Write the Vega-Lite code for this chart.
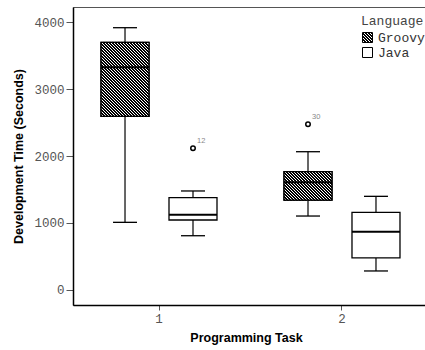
{
  "$schema": "https://vega.github.io/schema/vega-lite/v6.json",
  "autosize": {"type": "none"},
  "width": 355,
  "height": 298,
  "padding": {"left": 73, "top": 7, "right": 0, "bottom": 45},
  "background": "white",
  "config": {
    "view": {"stroke": "#555", "strokeWidth": 1},
    "axis": {"grid": false, "domainColor": "black", "domainWidth": 1.5, "tickColor": "#555", "labelFont": "Liberation Mono", "labelFontSize": 12.5, "labelColor": "#555", "titleFont": "Liberation Sans", "titleFontWeight": "bold", "titleFontSize": 12.5, "titleColor": "black"},
    "axisY": {"tickSize": 7, "labelPadding": 2, "titlePadding": 8},
    "axisX": {"tickSize": 5, "labelPadding": 2, "titlePadding": 7, "labelAngle": 0},
    "legend": {"orient": "none", "legendX": 288, "legendY": 8, "padding": 0, "titleFont": "Liberation Mono", "titleFontSize": 13, "titleFontWeight": "normal", "titleColor": "#444", "labelFont": "Liberation Mono", "labelFontSize": 13, "labelColor": "#333", "symbolType": "square", "symbolSize": 100, "symbolStrokeColor": "black", "symbolStrokeWidth": 1, "rowPadding": 0, "labelOffset": 4, "titlePadding": 3}
  },
  "datasets": {
    "boxes": [
      {"task": "1", "language": "Groovy", "lower": 1010, "q1": 2592, "median": 3324, "q3": 3697, "upper": 3915},
      {"task": "1", "language": "Java", "lower": 810, "q1": 1045, "median": 1122, "q3": 1380, "upper": 1478},
      {"task": "2", "language": "Groovy", "lower": 1104, "q1": 1340, "median": 1610, "q3": 1766, "upper": 2064},
      {"task": "2", "language": "Java", "lower": 284, "q1": 478, "median": 870, "q3": 1160, "upper": 1398}
    ],
    "outliers": [
      {"task": "1", "language": "Java", "value": 2117, "case": "12"},
      {"task": "2", "language": "Groovy", "value": 2473, "case": "30"}
    ]
  },
  "encoding": {
    "x": {"field": "task", "type": "nominal", "title": "Programming Task", "scale": {"paddingInner": 0.06, "paddingOuter": 0}, "axis": {"titleX": 173}},
    "xOffset": {"field": "language", "type": "nominal", "scale": {"paddingInner": 0, "paddingOuter": 0.265}}
  },
  "layer": [
    {
      "data": {"name": "boxes"},
      "mark": {"type": "rule", "color": "black", "strokeWidth": 1.2},
      "encoding": {
        "y": {"field": "lower", "type": "quantitative", "title": "Development Time (Seconds)", "scale": {"domain": [-224, 4224], "nice": false, "zero": false}, "axis": {"values": [0, 1000, 2000, 3000, 4000], "format": "d"}},
        "y2": {"field": "upper"}
      }
    },
    {
      "data": {"name": "boxes"},
      "mark": {"type": "tick", "color": "black", "size": 24, "thickness": 1.3, "opacity": 1},
      "encoding": {"y": {"field": "upper", "type": "quantitative", "title": "Development Time (Seconds)"}}
    },
    {
      "data": {"name": "boxes"},
      "mark": {"type": "tick", "color": "black", "size": 24, "thickness": 1.3, "opacity": 1},
      "encoding": {"y": {"field": "lower", "type": "quantitative", "title": "Development Time (Seconds)"}}
    },
    {
      "data": {"name": "boxes"},
      "mark": {"type": "bar", "width": 48, "stroke": "black", "strokeWidth": 1.3, "opacity": 1},
      "encoding": {
        "y": {"field": "q1", "type": "quantitative", "title": "Development Time (Seconds)"},
        "y2": {"field": "q3"},
        "fill": {"field": "language", "type": "nominal", "title": "Language", "scale": {"range": [
          {"expr": "{id:'hatchlegend',gradient:'linear',x1:0,y1:1,x2:1.2,y2:-0.2,stops:[{offset:0,color:'#000'},{offset:0.0625,color:'#000'},{offset:0.0625,color:'#fff'},{offset:0.125,color:'#fff'},{offset:0.125,color:'#000'},{offset:0.1875,color:'#000'},{offset:0.1875,color:'#fff'},{offset:0.25,color:'#fff'},{offset:0.25,color:'#000'},{offset:0.3125,color:'#000'},{offset:0.3125,color:'#fff'},{offset:0.375,color:'#fff'},{offset:0.375,color:'#000'},{offset:0.4375,color:'#000'},{offset:0.4375,color:'#fff'},{offset:0.5,color:'#fff'},{offset:0.5,color:'#000'},{offset:0.5625,color:'#000'},{offset:0.5625,color:'#fff'},{offset:0.625,color:'#fff'},{offset:0.625,color:'#000'},{offset:0.6875,color:'#000'},{offset:0.6875,color:'#fff'},{offset:0.75,color:'#fff'},{offset:0.75,color:'#000'},{offset:0.8125,color:'#000'},{offset:0.8125,color:'#fff'},{offset:0.875,color:'#fff'},{offset:0.875,color:'#000'},{offset:0.9375,color:'#000'},{offset:0.9375,color:'#fff'},{offset:1,color:'#fff'}]}"},
          "white"]}}
      }
    },
    {
      "data": {"name": "boxes"},
      "transform": [{"filter": "datum.task == '1' && datum.language == 'Groovy'"}],
      "mark": {"type": "bar", "width": 48, "stroke": "black", "strokeWidth": 1.3, "opacity": 1,
        "fill": {"id": "hatchbox1", "gradient": "linear", "x1": 0, "y1": 1, "x2": 0.7399, "y2": -0.1412, "stops": [
          {"offset": 0, "color": "#000"},
          {"offset": 0.0125, "color": "#000"}, {"offset": 0.0125, "color": "#fff"},
          {"offset": 0.025, "color": "#fff"}, {"offset": 0.025, "color": "#000"},
          {"offset": 0.0375, "color": "#000"}, {"offset": 0.0375, "color": "#fff"},
          {"offset": 0.05, "color": "#fff"}, {"offset": 0.05, "color": "#000"},
          {"offset": 0.0625, "color": "#000"}, {"offset": 0.0625, "color": "#fff"},
          {"offset": 0.075, "color": "#fff"}, {"offset": 0.075, "color": "#000"},
          {"offset": 0.0875, "color": "#000"}, {"offset": 0.0875, "color": "#fff"},
          {"offset": 0.1, "color": "#fff"}, {"offset": 0.1, "color": "#000"},
          {"offset": 0.1125, "color": "#000"}, {"offset": 0.1125, "color": "#fff"},
          {"offset": 0.125, "color": "#fff"}, {"offset": 0.125, "color": "#000"},
          {"offset": 0.1375, "color": "#000"}, {"offset": 0.1375, "color": "#fff"},
          {"offset": 0.15, "color": "#fff"}, {"offset": 0.15, "color": "#000"},
          {"offset": 0.1625, "color": "#000"}, {"offset": 0.1625, "color": "#fff"},
          {"offset": 0.175, "color": "#fff"}, {"offset": 0.175, "color": "#000"},
          {"offset": 0.1875, "color": "#000"}, {"offset": 0.1875, "color": "#fff"},
          {"offset": 0.2, "color": "#fff"}, {"offset": 0.2, "color": "#000"},
          {"offset": 0.2125, "color": "#000"}, {"offset": 0.2125, "color": "#fff"},
          {"offset": 0.225, "color": "#fff"}, {"offset": 0.225, "color": "#000"},
          {"offset": 0.2375, "color": "#000"}, {"offset": 0.2375, "color": "#fff"},
          {"offset": 0.25, "color": "#fff"}, {"offset": 0.25, "color": "#000"},
          {"offset": 0.2625, "color": "#000"}, {"offset": 0.2625, "color": "#fff"},
          {"offset": 0.275, "color": "#fff"}, {"offset": 0.275, "color": "#000"},
          {"offset": 0.2875, "color": "#000"}, {"offset": 0.2875, "color": "#fff"},
          {"offset": 0.3, "color": "#fff"}, {"offset": 0.3, "color": "#000"},
          {"offset": 0.3125, "color": "#000"}, {"offset": 0.3125, "color": "#fff"},
          {"offset": 0.325, "color": "#fff"}, {"offset": 0.325, "color": "#000"},
          {"offset": 0.3375, "color": "#000"}, {"offset": 0.3375, "color": "#fff"},
          {"offset": 0.35, "color": "#fff"}, {"offset": 0.35, "color": "#000"},
          {"offset": 0.3625, "color": "#000"}, {"offset": 0.3625, "color": "#fff"},
          {"offset": 0.375, "color": "#fff"}, {"offset": 0.375, "color": "#000"},
          {"offset": 0.3875, "color": "#000"}, {"offset": 0.3875, "color": "#fff"},
          {"offset": 0.4, "color": "#fff"}, {"offset": 0.4, "color": "#000"},
          {"offset": 0.4125, "color": "#000"}, {"offset": 0.4125, "color": "#fff"},
          {"offset": 0.425, "color": "#fff"}, {"offset": 0.425, "color": "#000"},
          {"offset": 0.4375, "color": "#000"}, {"offset": 0.4375, "color": "#fff"},
          {"offset": 0.45, "color": "#fff"}, {"offset": 0.45, "color": "#000"},
          {"offset": 0.4625, "color": "#000"}, {"offset": 0.4625, "color": "#fff"},
          {"offset": 0.475, "color": "#fff"}, {"offset": 0.475, "color": "#000"},
          {"offset": 0.4875, "color": "#000"}, {"offset": 0.4875, "color": "#fff"},
          {"offset": 0.5, "color": "#fff"}, {"offset": 0.5, "color": "#000"},
          {"offset": 0.5125, "color": "#000"}, {"offset": 0.5125, "color": "#fff"},
          {"offset": 0.525, "color": "#fff"}, {"offset": 0.525, "color": "#000"},
          {"offset": 0.5375, "color": "#000"}, {"offset": 0.5375, "color": "#fff"},
          {"offset": 0.55, "color": "#fff"}, {"offset": 0.55, "color": "#000"},
          {"offset": 0.5625, "color": "#000"}, {"offset": 0.5625, "color": "#fff"},
          {"offset": 0.575, "color": "#fff"}, {"offset": 0.575, "color": "#000"},
          {"offset": 0.5875, "color": "#000"}, {"offset": 0.5875, "color": "#fff"},
          {"offset": 0.6, "color": "#fff"}, {"offset": 0.6, "color": "#000"},
          {"offset": 0.6125, "color": "#000"}, {"offset": 0.6125, "color": "#fff"},
          {"offset": 0.625, "color": "#fff"}, {"offset": 0.625, "color": "#000"},
          {"offset": 0.6375, "color": "#000"}, {"offset": 0.6375, "color": "#fff"},
          {"offset": 0.65, "color": "#fff"}, {"offset": 0.65, "color": "#000"},
          {"offset": 0.6625, "color": "#000"}, {"offset": 0.6625, "color": "#fff"},
          {"offset": 0.675, "color": "#fff"}, {"offset": 0.675, "color": "#000"},
          {"offset": 0.6875, "color": "#000"}, {"offset": 0.6875, "color": "#fff"},
          {"offset": 0.7, "color": "#fff"}, {"offset": 0.7, "color": "#000"},
          {"offset": 0.7125, "color": "#000"}, {"offset": 0.7125, "color": "#fff"},
          {"offset": 0.725, "color": "#fff"}, {"offset": 0.725, "color": "#000"},
          {"offset": 0.7375, "color": "#000"}, {"offset": 0.7375, "color": "#fff"},
          {"offset": 0.75, "color": "#fff"}, {"offset": 0.75, "color": "#000"},
          {"offset": 0.7625, "color": "#000"}, {"offset": 0.7625, "color": "#fff"},
          {"offset": 0.775, "color": "#fff"}, {"offset": 0.775, "color": "#000"},
          {"offset": 0.7875, "color": "#000"}, {"offset": 0.7875, "color": "#fff"},
          {"offset": 0.8, "color": "#fff"}, {"offset": 0.8, "color": "#000"},
          {"offset": 0.8125, "color": "#000"}, {"offset": 0.8125, "color": "#fff"},
          {"offset": 0.825, "color": "#fff"}, {"offset": 0.825, "color": "#000"},
          {"offset": 0.8375, "color": "#000"}, {"offset": 0.8375, "color": "#fff"},
          {"offset": 0.85, "color": "#fff"}, {"offset": 0.85, "color": "#000"},
          {"offset": 0.8625, "color": "#000"}, {"offset": 0.8625, "color": "#fff"},
          {"offset": 0.875, "color": "#fff"}, {"offset": 0.875, "color": "#000"},
          {"offset": 0.8875, "color": "#000"}, {"offset": 0.8875, "color": "#fff"},
          {"offset": 0.9, "color": "#fff"}, {"offset": 0.9, "color": "#000"},
          {"offset": 0.9125, "color": "#000"}, {"offset": 0.9125, "color": "#fff"},
          {"offset": 0.925, "color": "#fff"}, {"offset": 0.925, "color": "#000"},
          {"offset": 0.9375, "color": "#000"}, {"offset": 0.9375, "color": "#fff"},
          {"offset": 0.95, "color": "#fff"}, {"offset": 0.95, "color": "#000"},
          {"offset": 0.9625, "color": "#000"}, {"offset": 0.9625, "color": "#fff"},
          {"offset": 0.975, "color": "#fff"}, {"offset": 0.975, "color": "#000"},
          {"offset": 0.9875, "color": "#000"}, {"offset": 0.9875, "color": "#fff"},
          {"offset": 1, "color": "#fff"}
        ]}},
      "encoding": {
        "y": {"field": "q1", "type": "quantitative", "title": "Development Time (Seconds)"},
        "y2": {"field": "q3"}
      }
    },
    {
      "data": {"name": "boxes"},
      "transform": [{"filter": "datum.task == '2' && datum.language == 'Groovy'"}],
      "mark": {"type": "bar", "width": 48, "stroke": "black", "strokeWidth": 1.3, "opacity": 1,
        "fill": {"id": "hatchbox2", "gradient": "linear", "x1": 0, "y1": 1, "x2": 1.1544, "y2": 0.3136, "stops": [
          {"offset": 0, "color": "#000"},
          {"offset": 0.02, "color": "#000"}, {"offset": 0.02, "color": "#fff"},
          {"offset": 0.04, "color": "#fff"}, {"offset": 0.04, "color": "#000"},
          {"offset": 0.06, "color": "#000"}, {"offset": 0.06, "color": "#fff"},
          {"offset": 0.08, "color": "#fff"}, {"offset": 0.08, "color": "#000"},
          {"offset": 0.1, "color": "#000"}, {"offset": 0.1, "color": "#fff"},
          {"offset": 0.12, "color": "#fff"}, {"offset": 0.12, "color": "#000"},
          {"offset": 0.14, "color": "#000"}, {"offset": 0.14, "color": "#fff"},
          {"offset": 0.16, "color": "#fff"}, {"offset": 0.16, "color": "#000"},
          {"offset": 0.18, "color": "#000"}, {"offset": 0.18, "color": "#fff"},
          {"offset": 0.2, "color": "#fff"}, {"offset": 0.2, "color": "#000"},
          {"offset": 0.22, "color": "#000"}, {"offset": 0.22, "color": "#fff"},
          {"offset": 0.24, "color": "#fff"}, {"offset": 0.24, "color": "#000"},
          {"offset": 0.26, "color": "#000"}, {"offset": 0.26, "color": "#fff"},
          {"offset": 0.28, "color": "#fff"}, {"offset": 0.28, "color": "#000"},
          {"offset": 0.3, "color": "#000"}, {"offset": 0.3, "color": "#fff"},
          {"offset": 0.32, "color": "#fff"}, {"offset": 0.32, "color": "#000"},
          {"offset": 0.34, "color": "#000"}, {"offset": 0.34, "color": "#fff"},
          {"offset": 0.36, "color": "#fff"}, {"offset": 0.36, "color": "#000"},
          {"offset": 0.38, "color": "#000"}, {"offset": 0.38, "color": "#fff"},
          {"offset": 0.4, "color": "#fff"}, {"offset": 0.4, "color": "#000"},
          {"offset": 0.42, "color": "#000"}, {"offset": 0.42, "color": "#fff"},
          {"offset": 0.44, "color": "#fff"}, {"offset": 0.44, "color": "#000"},
          {"offset": 0.46, "color": "#000"}, {"offset": 0.46, "color": "#fff"},
          {"offset": 0.48, "color": "#fff"}, {"offset": 0.48, "color": "#000"},
          {"offset": 0.5, "color": "#000"}, {"offset": 0.5, "color": "#fff"},
          {"offset": 0.52, "color": "#fff"}, {"offset": 0.52, "color": "#000"},
          {"offset": 0.54, "color": "#000"}, {"offset": 0.54, "color": "#fff"},
          {"offset": 0.56, "color": "#fff"}, {"offset": 0.56, "color": "#000"},
          {"offset": 0.58, "color": "#000"}, {"offset": 0.58, "color": "#fff"},
          {"offset": 0.6, "color": "#fff"}, {"offset": 0.6, "color": "#000"},
          {"offset": 0.62, "color": "#000"}, {"offset": 0.62, "color": "#fff"},
          {"offset": 0.64, "color": "#fff"}, {"offset": 0.64, "color": "#000"},
          {"offset": 0.66, "color": "#000"}, {"offset": 0.66, "color": "#fff"},
          {"offset": 0.68, "color": "#fff"}, {"offset": 0.68, "color": "#000"},
          {"offset": 0.7, "color": "#000"}, {"offset": 0.7, "color": "#fff"},
          {"offset": 0.72, "color": "#fff"}, {"offset": 0.72, "color": "#000"},
          {"offset": 0.74, "color": "#000"}, {"offset": 0.74, "color": "#fff"},
          {"offset": 0.76, "color": "#fff"}, {"offset": 0.76, "color": "#000"},
          {"offset": 0.78, "color": "#000"}, {"offset": 0.78, "color": "#fff"},
          {"offset": 0.8, "color": "#fff"}, {"offset": 0.8, "color": "#000"},
          {"offset": 0.82, "color": "#000"}, {"offset": 0.82, "color": "#fff"},
          {"offset": 0.84, "color": "#fff"}, {"offset": 0.84, "color": "#000"},
          {"offset": 0.86, "color": "#000"}, {"offset": 0.86, "color": "#fff"},
          {"offset": 0.88, "color": "#fff"}, {"offset": 0.88, "color": "#000"},
          {"offset": 0.9, "color": "#000"}, {"offset": 0.9, "color": "#fff"},
          {"offset": 0.92, "color": "#fff"}, {"offset": 0.92, "color": "#000"},
          {"offset": 0.94, "color": "#000"}, {"offset": 0.94, "color": "#fff"},
          {"offset": 0.96, "color": "#fff"}, {"offset": 0.96, "color": "#000"},
          {"offset": 0.98, "color": "#000"}, {"offset": 0.98, "color": "#fff"},
          {"offset": 1, "color": "#fff"}
        ]}},
      "encoding": {
        "y": {"field": "q1", "type": "quantitative", "title": "Development Time (Seconds)"},
        "y2": {"field": "q3"}
      }
    },
    {
      "data": {"name": "boxes"},
      "mark": {"type": "tick", "color": "black", "size": 48, "thickness": 2, "opacity": 1},
      "encoding": {"y": {"field": "median", "type": "quantitative", "title": "Development Time (Seconds)"}}
    },
    {
      "data": {"name": "outliers"},
      "mark": {"type": "point", "shape": "circle", "filled": false, "stroke": "black", "strokeWidth": 1.5, "size": 20, "opacity": 1},
      "encoding": {"y": {"field": "value", "type": "quantitative", "title": "Development Time (Seconds)"}}
    },
    {
      "data": {"name": "outliers"},
      "mark": {"type": "text", "align": "left", "baseline": "middle", "dx": 4, "dy": -7, "font": "Liberation Sans", "fontSize": 7.5, "color": "#888"},
      "encoding": {
        "y": {"field": "value", "type": "quantitative", "title": "Development Time (Seconds)"},
        "text": {"field": "case"}
      }
    }
  ]
}
